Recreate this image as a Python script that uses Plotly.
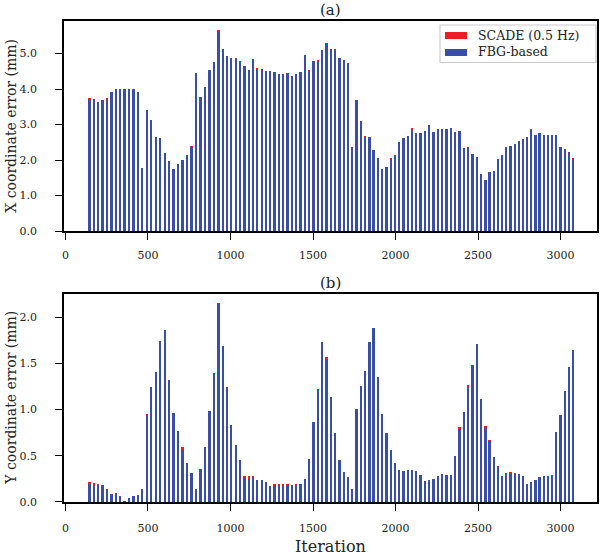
import plotly.graph_objects as go

iterations = [145, 172, 198, 225, 252, 278, 305, 332, 358, 385, 412, 438, 465, 492, 519,
              547, 574, 601, 628, 655, 682, 710, 737, 764, 791, 818, 846, 873, 900, 927,
              953, 979, 1005, 1032, 1058, 1084, 1110, 1136, 1162, 1189, 1215, 1241, 1267,
              1293, 1319, 1346, 1372, 1398, 1424, 1450, 1476, 1503, 1529, 1555, 1581, 1607,
              1633, 1660, 1686, 1712, 1738, 1764, 1790, 1816, 1842, 1867, 1893, 1919, 1945,
              1971, 1997, 2023, 2049, 2075, 2100, 2126, 2152, 2178, 2204, 2230, 2256, 2283,
              2309, 2335, 2361, 2388, 2414, 2440, 2466, 2493, 2519, 2545, 2570, 2595, 2621,
              2646, 2671, 2696, 2722, 2747, 2772, 2797, 2823, 2848, 2873, 2898, 2924, 2949,
              2974, 2999, 3025, 3050, 3075]

fbg_x = [3.69, 3.71, 3.63, 3.69, 3.73, 3.93, 3.99, 4.01, 3.99, 3.99, 4.00, 3.91, 1.78,
         3.41, 3.14, 2.64, 2.63, 2.21, 1.97, 1.76, 1.89, 1.99, 2.12, 2.38, 4.45, 3.76,
         4.07, 4.54, 4.77, 5.65, 5.13, 4.93, 4.89, 4.89, 4.76, 4.65, 4.54, 4.82, 4.57,
         4.57, 4.51, 4.51, 4.47, 4.44, 4.44, 4.44, 4.38, 4.43, 4.49, 4.96, 4.52, 4.79,
         4.80, 5.10, 5.26, 5.12, 5.09, 4.89, 4.82, 4.72, 2.37, 3.69, 3.10, 2.66, 2.64,
         2.28, 2.07, 1.75, 1.81, 2.02, 2.11, 2.50, 2.63, 2.67, 2.86, 2.77, 2.77, 2.81,
         2.98, 2.79, 2.87, 2.88, 2.87, 2.89, 2.78, 2.82, 2.34, 2.34, 2.16, 2.09, 1.62,
         1.43, 1.66, 1.69, 2.00, 2.14, 2.37, 2.40, 2.45, 2.54, 2.58, 2.66, 2.84, 2.70,
         2.75, 2.72, 2.71, 2.70, 2.72, 2.36, 2.30, 2.22, 2.03]

scade_x = [3.75, 3.73, 3.63, 3.69, 3.75, 3.93, 3.99, 4.01, 3.99, 3.99, 4.00, 3.92, 1.78,
           3.41, 3.14, 2.64, 2.63, 2.21, 1.97, 1.76, 1.89, 1.99, 2.15, 2.41, 4.45, 3.79,
           4.07, 4.54, 4.77, 5.68, 5.13, 4.93, 4.89, 4.89, 4.78, 4.65, 4.54, 4.84, 4.59,
           4.57, 4.51, 4.51, 4.47, 4.44, 4.44, 4.46, 4.38, 4.43, 4.49, 4.96, 4.55, 4.79,
           4.83, 5.10, 5.29, 5.14, 5.12, 4.89, 4.82, 4.75, 2.37, 3.69, 3.10, 2.68, 2.64,
           2.28, 2.07, 1.75, 1.81, 2.05, 2.13, 2.50, 2.63, 2.67, 2.89, 2.77, 2.77, 2.81,
           3.00, 2.79, 2.87, 2.88, 2.87, 2.91, 2.78, 2.82, 2.34, 2.38, 2.18, 2.09, 1.62,
           1.43, 1.66, 1.69, 2.03, 2.14, 2.37, 2.40, 2.45, 2.54, 2.58, 2.66, 2.87, 2.70,
           2.75, 2.72, 2.71, 2.70, 2.72, 2.38, 2.30, 2.22, 2.06]

fbg_y = [0.193, 0.186, 0.186, 0.183, 0.129, 0.086, 0.090, 0.064, 0.005, 0.043, 0.064,
         0.079, 0.140, 0.945, 1.240, 1.410, 1.740, 1.860, 1.320, 0.967, 0.770, 0.566,
         0.426, 0.319, 0.136, 0.347, 0.600, 0.980, 1.390, 2.145, 1.690, 1.240, 0.830,
         0.620, 0.458, 0.272, 0.247, 0.272, 0.236, 0.233, 0.211, 0.175, 0.179, 0.179,
         0.186, 0.183, 0.179, 0.186, 0.190, 0.254, 0.465, 0.866, 1.214, 1.726, 1.536,
         1.135, 0.748, 0.458, 0.322, 0.268, 0.143, 1.010, 1.253, 1.414, 1.736, 1.883,
         1.350, 0.952, 0.748, 0.562, 0.426, 0.344, 0.337, 0.344, 0.351, 0.337, 0.297,
         0.222, 0.240, 0.250, 0.283, 0.300, 0.294, 0.297, 0.498, 0.788, 0.974, 1.242,
         1.475, 1.704, 1.110, 0.798, 0.659, 0.483, 0.380, 0.286, 0.300, 0.308, 0.308,
         0.304, 0.276, 0.200, 0.218, 0.243, 0.265, 0.279, 0.283, 0.279, 0.755, 0.945,
         1.196, 1.457, 1.640]

scade_y = [0.215, 0.204, 0.193, 0.186, 0.143, 0.086, 0.100, 0.064, 0.005, 0.043, 0.064,
           0.079, 0.140, 0.952, 1.240, 1.410, 1.740, 1.866, 1.320, 0.967, 0.770, 0.600,
           0.426, 0.319, 0.136, 0.352, 0.600, 0.985, 1.400, 2.152, 1.690, 1.240, 0.830,
           0.620, 0.458, 0.286, 0.279, 0.286, 0.236, 0.233, 0.211, 0.175, 0.200, 0.197,
           0.193, 0.193, 0.179, 0.197, 0.190, 0.254, 0.465, 0.866, 1.222, 1.733, 1.568,
           1.135, 0.748, 0.458, 0.322, 0.268, 0.143, 1.010, 1.253, 1.414, 1.736, 1.883,
           1.350, 0.952, 0.748, 0.562, 0.426, 0.347, 0.337, 0.344, 0.351, 0.337, 0.297,
           0.222, 0.240, 0.250, 0.283, 0.305, 0.294, 0.297, 0.502, 0.810, 0.974, 1.270,
           1.482, 1.710, 1.110, 0.820, 0.670, 0.483, 0.387, 0.286, 0.310, 0.322, 0.319,
           0.304, 0.276, 0.200, 0.218, 0.243, 0.265, 0.279, 0.283, 0.290, 0.755, 0.945,
           1.203, 1.457, 1.647]

x_ticks = [0, 500, 1000, 1500, 2000, 2500, 3000]
y1_ticks = [0, 1, 2, 3, 4, 5]
y2_ticks = [0, 0.5, 1.0, 1.5, 2.0]
legend_labels = ["SCADE (0.5 Hz)", "FBG-based"]

RED = "#ec1c24"
BLUE = "#3a4ea6"
FONT = "DejaVu Serif"
BAR_W = 14

fig = go.Figure()
fig.add_trace(go.Bar(x=iterations, y=scade_x, name=legend_labels[0], marker_color=RED,
                     width=BAR_W, marker_line_width=0, xaxis="x", yaxis="y"))
fig.add_trace(go.Bar(x=iterations, y=fbg_x, name=legend_labels[1], marker_color=BLUE,
                     width=BAR_W, marker_line_width=0, xaxis="x", yaxis="y"))
fig.add_trace(go.Bar(x=iterations, y=scade_y, name=legend_labels[0], marker_color=RED,
                     width=BAR_W, marker_line_width=0, xaxis="x2", yaxis="y2"))
fig.add_trace(go.Bar(x=iterations, y=fbg_y, name=legend_labels[1], marker_color=BLUE,
                     width=BAR_W, marker_line_width=0, xaxis="x2", yaxis="y2"))

axis_common = dict(showline=True, linecolor="black", linewidth=1.5, mirror=True,
                   ticks="outside", ticklen=7, tickwidth=1.3, tickcolor="black",
                   showgrid=False, zeroline=False, automargin=False,
                   tickfont=dict(family=FONT, size=11, color="#222"))

# hand-drawn legend (wide swatches as in the reference)
legend_shapes = [
    dict(type="rect", xref="paper", yref="paper", x0=0.7054, x1=0.9981, y0=0.9137,
         y1=0.9917, line=dict(color="#cccccc", width=1.2), fillcolor="rgba(255,255,255,0.85)",
         layer="above"),
    dict(type="rect", xref="paper", yref="paper", x0=0.7148, x1=0.7561, y0=0.9626,
         y1=0.9771, line=dict(width=0), fillcolor=RED, layer="above"),
    dict(type="rect", xref="paper", yref="paper", x0=0.7148, x1=0.7561, y0=0.9272,
         y1=0.9418, line=dict(width=0), fillcolor=BLUE, layer="above"),
]
legend_texts = [
    dict(text=legend_labels[0], x=0.773, y=0.9698, xref="paper", yref="paper",
         xanchor="left", yanchor="middle", showarrow=False,
         font=dict(family=FONT, size=12.5, color="#222")),
    dict(text=legend_labels[1], x=0.773, y=0.9356, xref="paper", yref="paper",
         xanchor="left", yanchor="middle", showarrow=False,
         font=dict(family=FONT, size=12.5, color="#222")),
]

fig.update_layout(
    width=600, height=555,
    margin=dict(l=64, r=3, t=21, b=53, autoexpand=False),
    barmode="overlay",
    showlegend=False,
    plot_bgcolor="white", paper_bgcolor="white",
    font=dict(family=FONT, size=12, color="#222"),
    xaxis=dict(domain=[0, 1], range=[-9, 3221], tickvals=x_ticks, anchor="y",
               ticklabelstandoff=6, **axis_common),
    yaxis=dict(domain=[0.5634, 1.0], range=[0, 5.92], tickvals=y1_ticks, anchor="x",
               tickformat=".1f", ticklabelstandoff=16, **axis_common),
    xaxis2=dict(domain=[0, 1], range=[-9, 3221], tickvals=x_ticks, anchor="y2",
                ticklabelstandoff=8, **axis_common),
    yaxis2=dict(domain=[0, 0.4324], range=[0, 2.25], tickvals=y2_ticks, anchor="x2",
                tickformat=".1f", ticklabelstandoff=16, **axis_common),
    shapes=legend_shapes,
    annotations=legend_texts + [
        dict(text="(a)", x=0.5, y=1.0, xref="paper", yref="paper", yanchor="bottom",
             yshift=0, showarrow=False, font=dict(family=FONT, size=15)),
        dict(text="(b)", x=0.5, y=0.4324, xref="paper", yref="paper", yanchor="bottom",
             yshift=0, showarrow=False, font=dict(family=FONT, size=15)),
        dict(text="Iteration", x=0.5, y=-0.0915, xref="paper", yref="paper",
             yanchor="middle", showarrow=False, font=dict(family=FONT, size=16)),
        dict(text="X coordinate error (mm)", x=-0.1, y=0.7817, xref="paper",
             yref="paper", xanchor="center", yanchor="middle", textangle=-90,
             showarrow=False, font=dict(family=FONT, size=14)),
        dict(text="Y coordinate error (mm)", x=-0.1, y=0.2162, xref="paper",
             yref="paper", xanchor="center", yanchor="middle", textangle=-90,
             showarrow=False, font=dict(family=FONT, size=14)),
    ],
    bargap=0,
)

fig.write_html("out.html", config={"displayModeBar": False},
               post_script="document.body.style.margin='0';document.body.style.padding='0';")
